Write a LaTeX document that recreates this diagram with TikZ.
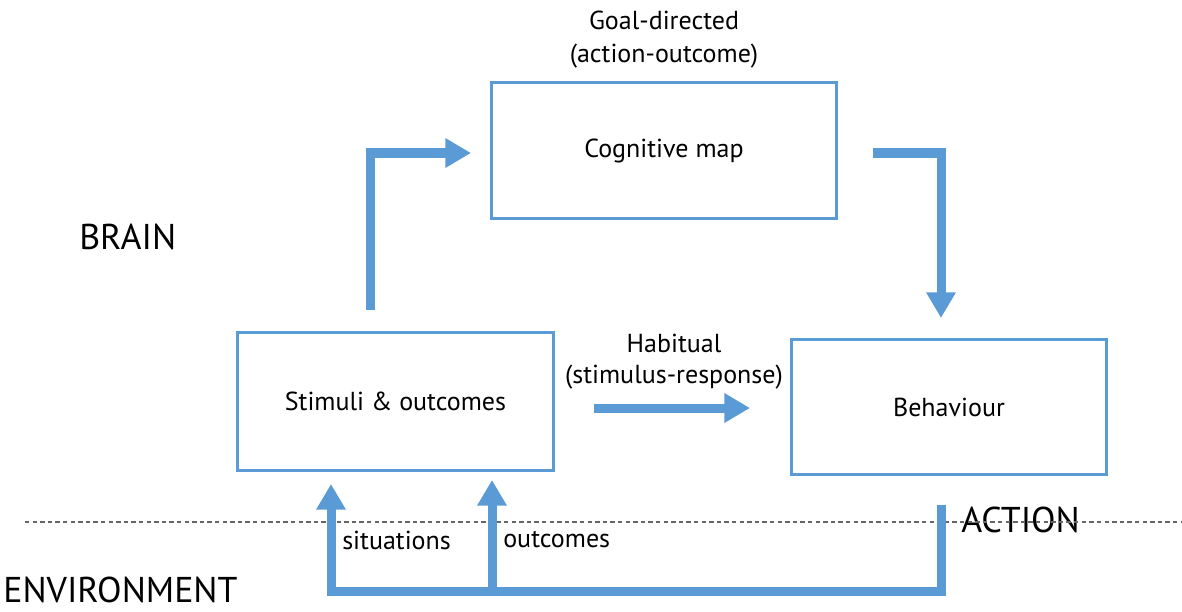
\documentclass[tikz,border=0pt]{standalone}
\usepackage{fontspec}
\setmainfont{PT Sans}
\usetikzlibrary{arrows.meta}
\definecolor{flowblue}{HTML}{5B9BD5}
\tikzset{
	box/.style={
		draw = flowblue,
		line width = 0.075cm,
		inner sep = 0pt,
		font = \fontsize{18.5pt}{22pt}\selectfont
	},
	flow/.style={
		draw = flowblue,
		line width = 0.225cm,
		line join = miter
	},
	tip/.style={
		-{Triangle[width=0.7cm,length=0.64cm]}
	},
	lbl/.style={
		font = \fontsize{18.5pt}{22pt}\selectfont,
		inner sep = 0pt
	},
	big/.style={
		font = \fontsize{25.5pt}{29pt}\selectfont,
		inner sep = 0pt
	},
}

\begin{document}
\begin{tikzpicture}[x=0.025cm, y=-0.025cm]
    \useasboundingbox (0,0) rectangle (1182,611);
    % boxes
    \node[box, minimum width=8.6cm, minimum height=3.375cm] (cog) at (664,150.5) {Cognitive map};
    \node[box, minimum width=7.875cm, minimum height=3.425cm] (stim) at (395.5,401.5) {Stimuli \& outcomes};
    \node[box, minimum width=7.85cm, minimum height=3.35cm] (beh) at (949,407) {Behaviour};
    % labels
    \node[lbl] (goal) at (664,20) {Goal-directed};
    \node[lbl] (goal2) at (664,56) {(action-outcome)};
    \node[lbl] (hab) at (674,343) {Habitual};
    \node[lbl] (hab2) at (674,377) {(stimulus-response)};
    \node[big, anchor=west] (brain) at (79,237) {BRAIN};
    \node[big, anchor=west] (act) at (961,520) {ACTION};
    \node[big, anchor=west] (env) at (3,590) {ENVIRONMENT};
    \node[lbl, anchor=west] (sit) at (342,540) {situations};
    \node[lbl, anchor=west] (out) at (503,540) {outcomes};
    % boundary
    \coordinate (bl) at (25,522);
    \coordinate (br) at (1182,522);
    \draw[dashed, gray!80!black, line width=0.03cm, dash pattern=on 0.11cm off 0.08cm] (bl) -- (br);
    % goal-directed route
    \coordinate (a0) at (370,310);
    \coordinate (a1) at (370,153);
    \coordinate (a2) at (471,153);
    \draw[flow, tip] (a0) -- (a1) -- (a2);
    \coordinate (b0) at (873,153);
    \coordinate (b1) at (941,153);
    \coordinate (b2) at (941,318);
    \draw[flow, tip] (b0) -- (b1) -- (b2);
    % habitual route
    \coordinate (h0) at (594,408);
    \coordinate (h1) at (750,408);
    \draw[flow, tip] (h0) -- (h1);
    % feedback through environment
    \coordinate (e0) at (941,505);
    \coordinate (e1) at (941,591);
    \coordinate (e2) at (331,591);
    \coordinate (e3) at (331,484);
    \coordinate (o0) at (492,591);
    \coordinate (o1) at (492,480);
    \draw[flow, tip] (e0) -- (e1) -- (e2) -- (e3);
    \draw[flow, tip] (o0) -- (o1);
\end{tikzpicture}
\end{document}
